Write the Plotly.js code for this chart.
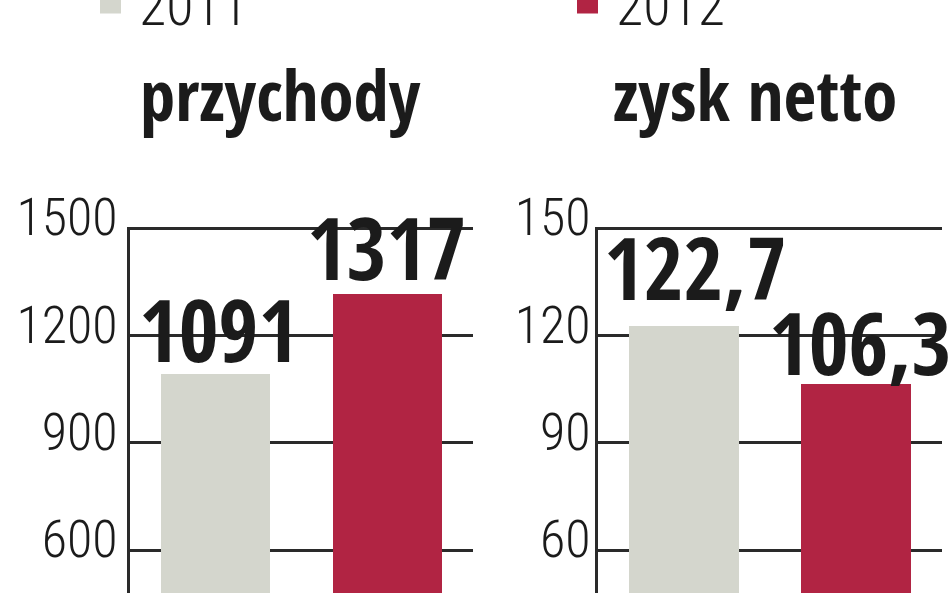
<!DOCTYPE html>
<html>
<head>
<meta charset="utf-8">
<script src="https://cdn.plot.ly/plotly-3.0.1.min.js"></script>
<style>
  html, body { margin: 0; padding: 0; background: #ffffff; }
  #chart { width: 948px; height: 593px; }
</style>
</head>
<body>
<div id="chart"></div>
<script>
// ---- data ----
const years = ['2011', '2012'];
const panelTitles = ['przychody', 'zysk netto'];
const revenue = [1091, 1317];        // przychody
const netProfit = [122.7, 106.3];    // zysk netto
const revenueTicks = [600, 900, 1200, 1500];
const profitTicks = [60, 90, 120, 150];

// ---- styling ----
const colors = ['#d4d6cd', '#b12443'];
const ink = '#1b1b1b';
const lineInk = '#2a2a2a';
const thin = '"Roboto Condensed", "DejaVu Sans Condensed", sans-serif';
const heavy = '"Open Sans Condensed", "Roboto Condensed", "DejaVu Sans Condensed", sans-serif';

const fmt = v => String(v).replace('.', ',');

const traces = [];
years.forEach((yr, i) => {
  traces.push({
    type: 'bar', x: [i], y: [revenue[i]], xaxis: 'x', yaxis: 'y',
    marker: { color: colors[i] }, width: 0.636, showlegend: false, hoverinfo: 'skip'
  });
});
years.forEach((yr, i) => {
  traces.push({
    type: 'bar', x: [i], y: [netProfit[i]], xaxis: 'x2', yaxis: 'y2',
    marker: { color: colors[i] }, width: 0.636, showlegend: false, hoverinfo: 'skip'
  });
});
// legend entries (one legend per year)
years.forEach((yr, i) => {
  traces.push({
    type: 'scatter', mode: 'markers', x: [null], y: [null], name: yr,
    xaxis: 'x', yaxis: 'y', legend: i === 0 ? 'legend' : 'legend2',
    marker: { symbol: 'square', size: 16, color: colors[i], line: { width: 5, color: colors[i] } },
    showlegend: true, hoverinfo: 'skip'
  });
});

const yCommon = {
  showgrid: true, gridcolor: lineInk, gridwidth: 3,
  zeroline: false, showline: true, linecolor: lineInk, linewidth: 3,
  ticks: '', tickfont: { family: thin, size: 52, color: ink, weight: 300 },
  ticklabelshift: -11
};
const xCommon = {
  type: 'linear', showgrid: false, zeroline: false, showline: false,
  showticklabels: false, ticks: '', range: [-0.5, 1.5]
};

const valueOffsets1 = [{ dx: 3, dy: -15 }, { dx: -1, dy: -13 }];
const valueOffsets2 = [{ dx: 11, dy: -1 }, { dx: 4, dy: -18 }];
const valueFont = { family: heavy, size: 86, color: ink, weight: 800 };

const annotations = [];
years.forEach((yr, i) => {
  annotations.push({
    xref: 'x', yref: 'y', x: i, y: revenue[i], text: fmt(revenue[i]),
    showarrow: false, xanchor: 'center', yanchor: 'bottom',
    xshift: valueOffsets1[i].dx, yshift: valueOffsets1[i].dy, font: valueFont
  });
  annotations.push({
    xref: 'x2', yref: 'y2', x: i, y: netProfit[i], text: fmt(netProfit[i]),
    showarrow: false, xanchor: 'center', yanchor: 'bottom',
    xshift: valueOffsets2[i].dx, yshift: valueOffsets2[i].dy, font: valueFont
  });
});
const titleFont = { family: heavy, size: 71, color: ink, weight: 700 };
annotations.push({
  xref: 'paper', yref: 'paper', x: 280 / 948, y: 1 - 93 / 593, text: panelTitles[0],
  showarrow: false, xanchor: 'center', yanchor: 'middle', font: titleFont
});
annotations.push({
  xref: 'paper', yref: 'paper', x: 755 / 948, y: 1 - 93 / 593, text: panelTitles[1],
  showarrow: false, xanchor: 'center', yanchor: 'middle', font: titleFont
});

const legendCommon = {
  orientation: 'h', xanchor: 'left', y: 1 - 3 / 593, yanchor: 'middle',
  font: { family: thin, size: 56, color: ink, weight: 300 },
  itemwidth: 47, valign: 'bottom', bgcolor: 'rgba(0,0,0,0)', borderwidth: 0,
  itemclick: false, itemdoubleclick: false
};

const layout = {
  width: 948, height: 593,
  margin: { l: 0, r: 0, t: 0, b: 0, pad: 0, autoexpand: false },
  paper_bgcolor: '#ffffff', plot_bgcolor: '#ffffff',
  showlegend: true,
  legend: Object.assign({}, legendCommon, { x: 82 / 948 }),
  legend2: Object.assign({}, legendCommon, { x: 559 / 948 }),
  xaxis: Object.assign({}, xCommon, { domain: [130 / 948, 473 / 948], anchor: 'y' }),
  yaxis: Object.assign({}, yCommon, {
    domain: [0, 1 - 227 / 593], range: [480, 1503], tickvals: revenueTicks,
    ticktext: revenueTicks.map(String), anchor: 'x', ticklabelstandoff: -1
  }),
  xaxis2: Object.assign({}, xCommon, { domain: [598 / 948, 942 / 948], anchor: 'y2' }),
  yaxis2: Object.assign({}, yCommon, {
    domain: [0, 1 - 227 / 593], range: [48, 150.3], tickvals: profitTicks,
    ticktext: profitTicks.map(String), anchor: 'x2', ticklabelstandoff: -6
  }),
  annotations: annotations,
  bargap: 0
};

Plotly.newPlot('chart', traces, layout, { staticPlot: true, displayModeBar: false });
</script>
</body>
</html>
